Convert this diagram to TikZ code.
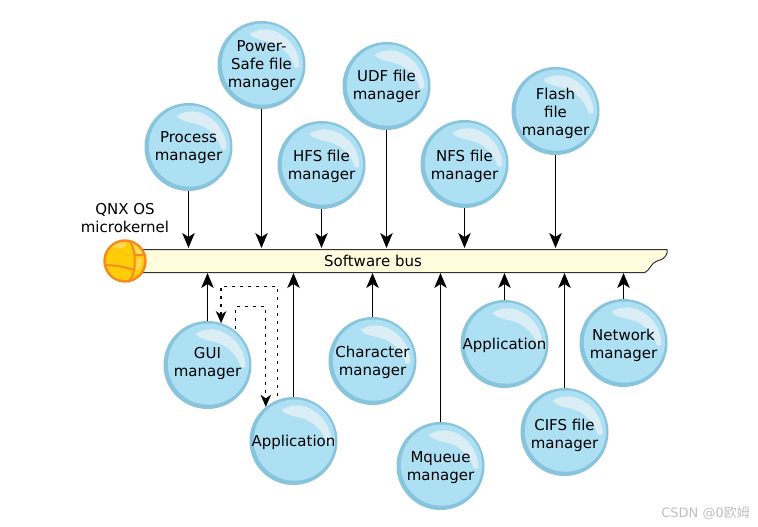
\documentclass[tikz,border=0pt]{standalone}
\usepackage{fontspec}
\setmainfont{DejaVu Sans}
\newfontfamily\cjkwm{Noto Sans CJK SC}
\usetikzlibrary{arrows.meta}
\definecolor{ringc}{HTML}{88C4DC}
\definecolor{fillc}{HTML}{AEE0F4}
\definecolor{glossc}{HTML}{DBEDF5}
\definecolor{orangec}{HTML}{F58A1F}
\definecolor{yellowc}{HTML}{FFCC0A}
\definecolor{panelc}{HTML}{FFD75A}
\definecolor{busc}{HTML}{FFFBDD}
\newcommand\ztxt[2][2]{\raisebox{\dimexpr-#1pt-3.75pt\relax}[0pt][0pt]{\makebox[0pt]{\begin{tabular}{@{}c@{}}#2\end{tabular}}}}
\tikzset{
  x=1pt,y=-1pt,
  lbl/.style={font=\fontsize{15}{18}\selectfont,text=black,inner sep=0pt},
  bubble/.style={lbl,circle,fill=ringc,minimum size=88pt,outer sep=0pt,
    path picture={
      \begin{scope}[shift={(path picture bounding box.center)}]
        \fill[fillc] (0.9,-0.9) circle[radius=40.6];
        \fill[glossc] (-12,-31) .. controls (-5,-36) and (6,-37) .. (14,-33.5)
          .. controls (28,-28) and (38,-14) .. (38,2)
          .. controls (36,3) and (34,3) .. (33,2)
          .. controls (31,-8) and (20,-20) .. (8,-23)
          .. controls (0,-25) and (-8,-26) .. (-12,-31) -- cycle;
      \end{scope}
    }},
  link/.style={draw=black,line width=1.35pt,-{Stealth[length=15pt,width=12.5pt,inset=4pt]}},
  dotlink/.style={draw=black,line width=1.3pt,dash pattern=on 3pt off 5pt,-{Stealth[length=12pt,width=10.5pt,inset=3.5pt]}},
}
\begin{document}
\begin{tikzpicture}
\useasboundingbox (0,0) rectangle (758,527);
% bus
\coordinate (busT) at (400,248);
\coordinate (busB) at (400,273);
\draw[fill=busc,draw=black!80,line width=1pt] (125,249.5) -- (667,249.5) -- (667,253)
  .. controls (666,258) and (661,260) .. (657,261)
  .. controls (651,263) and (650,270) .. (645,272.5) -- (125,272.5) -- cycle;
\node[lbl] (buslabel) at (373,261) {Software bus};
% microkernel
\node[circle,draw=orangec,line width=2.4pt,fill=yellowc,minimum size=41pt,inner sep=0pt] (kernel) at (125,261) {};
\fill[panelc] (132,243) .. controls (137,246) and (141,250) .. (143,254) -- (136,254) .. controls (135,250) and (134,246) .. (132,243) -- cycle;
\fill[panelc] (137,259) -- (142,258) .. controls (142,263) and (141,267) .. (138,270) -- (136,269) -- cycle;
\fill[panelc] (112,247) .. controls (116,243) and (122,242) .. (126,243) .. controls (127,246) and (125,248) .. (122,248) .. controls (119,248) and (116,247) .. (112,247) -- cycle;
\draw[orangec,line width=1.9pt] (104,265) .. controls (115,265) and (125,267) .. (134,270)
  (130,241) .. controls (134,248) and (136,256) .. (134,270) .. controls (133,275) and (131,279) .. (128,282)
  (135,255) -- (146,255);
\node[lbl,align=center] (kernellabel) at (125,218) {QNX OS\\microkernel};
% upper bubbles
\node[bubble] (proc) at (188.5,147) {\ztxt[1]{Process\\manager}};
\node[bubble] (power) at (261.5,65) {\ztxt[1]{Power-\\Safe file\\manager}};
\node[bubble] (hfs) at (321.5,165) {\ztxt[2]{HFS file\\manager}};
\node[bubble] (udf) at (386.5,86) {\ztxt[1]{UDF file\\manager}};
\node[bubble] (nfs) at (464.5,164) {\ztxt[3]{NFS file\\manager}};
\node[bubble] (flash) at (555.5,111) {\ztxt[3]{Flash\\file\\manager}};
% lower bubbles
\node[bubble] (gui) at (207.5,365) {\ztxt[-1]{GUI\\manager}};
\node[bubble] (appa) at (293.5,441) {\ztxt[2]{Application}};
\node[bubble] (char) at (372.5,361) {\ztxt[2]{Character\\manager}};
\node[bubble] (mq) at (440.5,466) {\ztxt[2]{Mqueue\\manager}};
\node[bubble] (appb) at (504.5,344) {\ztxt[2]{Application}};
\node[bubble] (cifs) at (564.5,432) {\ztxt[4]{CIFS file\\manager}};
\node[bubble] (net) at (623.5,343) {\ztxt[3]{Network\\manager}};
% arrows
\foreach \n in {proc,power,hfs,udf,nfs,flash}
  \draw[link] (\n.south) -- (\n.south |- busT);
\foreach \n in {gui,appa,char,mq,appb,cifs,net}
  \draw[link] (\n.north) -- (\n.north |- busB);
% dotted
\coordinate (outerc) at (250,286.5);
\coordinate (innerc) at (250,306.5);
\draw[dotlink,shorten <=4pt] (appa.111.3) |- (outerc) -| (gui.72.8);
\draw[dotlink,shorten <=2pt] (gui.50.5) |- (innerc) -| (appa.129.5);
% watermark
\node[font=\fontsize{13}{15}\selectfont,text=black!25,inner sep=0pt,anchor=east] (wm) at (750,513) {CSDN @0{\cjkwm 欧姆}};
\end{tikzpicture}
\end{document}
